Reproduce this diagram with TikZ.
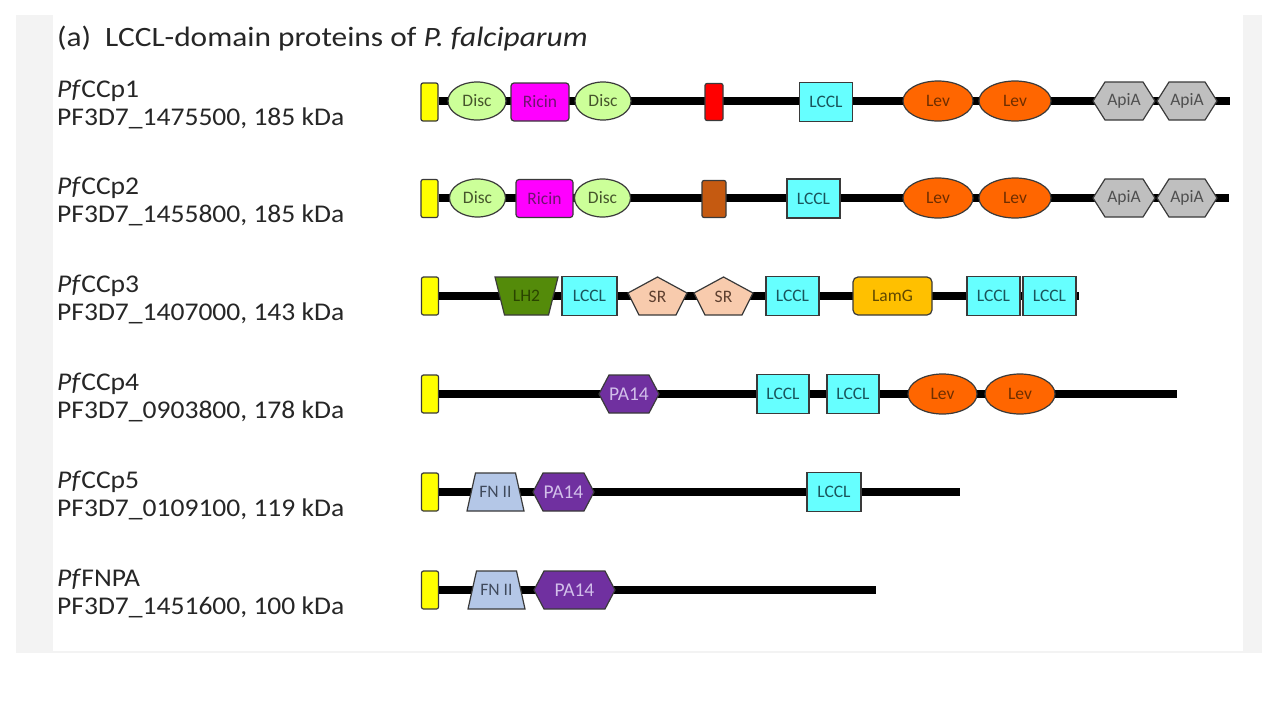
\documentclass[tikz,border=0pt]{standalone}
\usepackage{fontspec}
\setmainfont{Carlito}
\newfontfamily\wideCarlito[FakeStretch=1.08]{Carlito}
\newfontfamily\titleCarlito[FakeStretch=1.12]{Carlito}
\usetikzlibrary{shapes.geometric}
\definecolor{panelgray}{HTML}{F3F3F3}
\definecolor{bdcol}{HTML}{3A3A3A}
\definecolor{txtcol}{HTML}{262626}
\definecolor{sigfill}{HTML}{FFFF00}
\definecolor{discfill}{HTML}{CCFF99}
\definecolor{disctext}{HTML}{46552C}
\definecolor{ricinfill}{HTML}{FF00FF}
\definecolor{ricintext}{HTML}{701470}
\definecolor{redfill}{HTML}{FF0000}
\definecolor{brownfill}{HTML}{C55A11}
\definecolor{lcclfill}{HTML}{66FFFF}
\definecolor{lccltext}{HTML}{1A555C}
\definecolor{levfill}{HTML}{FF6600}
\definecolor{levtext}{HTML}{6E2E00}
\definecolor{apiafill}{HTML}{BFBFBF}
\definecolor{apiatext}{HTML}{4F4F4F}
\definecolor{lhfill}{HTML}{548B0A}
\definecolor{lhtext}{HTML}{2A4400}
\definecolor{srfill}{HTML}{F8CBAD}
\definecolor{srtext}{HTML}{5E4030}
\definecolor{lamgfill}{HTML}{FFC000}
\definecolor{lamgtext}{HTML}{604800}
\definecolor{pafill}{HTML}{7030A0}
\definecolor{patext}{HTML}{D2BFEA}
\definecolor{fnfill}{HTML}{B4C7E7}
\definecolor{fntext}{HTML}{404A5C}
\newcommand{\domfont}{\fontsize{17.5}{17.5}\selectfont}
\newcommand{\hexdom}[7]{%
  \draw[#6] ({#2-#4},#3) -- ({#2-#4+#5},{#3-19}) -- ({#2+#4-#5},{#3-19}) -- ({#2+#4},#3) -- ({#2+#4-#5},{#3+19}) -- ({#2-#4+#5},{#3+19}) -- cycle;
  \node[#6 text] (#1) at (#2,#3) {#7};}
\newcommand{\trapdom}[7]{%
  \draw[#6] ({#2-#4},{#3-19}) -- ({#2+#4},{#3-19}) -- ({#2+#5},{#3+19}) -- ({#2-#5},{#3+19}) -- cycle;
  \node[#6 text] (#1) at (#2,#3) {#7};}
\newcommand{\pentdom}[4]{%
  \draw[sr] (#2,{#3-19}) -- ({#2+29.5},{#3-3}) -- ({#2+18.5},{#3+19}) -- ({#2-18.5},{#3+19}) -- ({#2-29.5},{#3-3}) -- cycle;
  \node[sr text] (#1) at (#2,{#3+1}) {#4};}
\tikzset{
  bd/.style={draw=bdcol, line width=1.2pt},
  dlab/.style={font=\domfont, inner sep=0pt},
  backbone/.style={line width=8pt, black},
  sigbox/.style={bd, fill=sigfill, rounded corners=2pt, minimum width=17pt, minimum height=38pt, inner sep=0pt},
  disc/.style={ellipse, bd, fill=discfill, minimum height=38pt, inner sep=0pt, dlab, text=disctext},
  ricin/.style={rectangle, bd, fill=ricinfill, rounded corners=3pt, minimum height=38pt, inner sep=0pt, dlab, text=ricintext},
  tmbox/.style={rectangle, bd, rounded corners=2pt, minimum height=37pt, inner sep=0pt},
  lccl/.style={rectangle, bd, fill=lcclfill, minimum height=39pt, inner sep=0pt, dlab, text=lccltext},
  lev/.style={ellipse, bd, fill=levfill, minimum height=40pt, inner sep=0pt, dlab, text=levtext},
  lamg/.style={rectangle, bd, fill=lamgfill, rounded corners=5pt, minimum height=38pt, inner sep=0pt, dlab, text=lamgtext},
  apia/.style={bd, fill=apiafill},
  apia text/.style={dlab, text=apiatext},
  pa/.style={bd, fill=pafill},
  pa text/.style={dlab, font=\fontsize{19.5}{19.5}\selectfont, text=patext},
  lh/.style={bd, fill=lhfill},
  lh text/.style={dlab, text=lhtext},
  fn/.style={bd, fill=fnfill},
  fn text/.style={dlab, text=fntext},
  sr/.style={bd, fill=srfill},
  sr text/.style={dlab, text=srtext},
  namelbl/.style={anchor=base west, inner sep=0pt, text=txtcol, font=\wideCarlito\fontsize{25.5}{30}\selectfont},
}
\begin{document}
\begin{tikzpicture}[x=1pt,y=-1pt]
\useasboundingbox (0,0) rectangle (1280,720);
\fill[white] (0,0) rectangle (1280,720);
\fill[panelgray] (16,15) rectangle (1262,653);
\fill[white] (53,15) rectangle (1243,651);

\node[anchor=base west, inner sep=0pt, text=txtcol, font=\titleCarlito\fontsize{28}{32}\selectfont] (title) at (57,46) {(a)\hspace{0.5em}LCCL-domain proteins of \textit{P. falciparum}};

% labels
\node[namelbl] (n1) at (57,97) {\textit{Pf}CCp1};
\node[namelbl] (i1) at (57,125) {PF3D7\_1475500, 185 kDa};
\node[namelbl] (n2) at (57,194) {\textit{Pf}CCp2};
\node[namelbl] (i2) at (57,222) {PF3D7\_1455800, 185 kDa};
\node[namelbl] (n3) at (57,292) {\textit{Pf}CCp3};
\node[namelbl] (i3) at (57,320) {PF3D7\_1407000, 143 kDa};
\node[namelbl] (n4) at (57,390) {\textit{Pf}CCp4};
\node[namelbl] (i4) at (57,418) {PF3D7\_0903800, 178 kDa};
\node[namelbl] (n5) at (57,488) {\textit{Pf}CCp5};
\node[namelbl] (i5) at (57,516) {PF3D7\_0109100, 119 kDa};
\node[namelbl] (n6) at (57,586) {\textit{Pf}FNPA};
\node[namelbl] (i6) at (57,614) {PF3D7\_1451600, 100 kDa};

% row 1
\node[sigbox] (s1) at (429.5,102) {};
\coordinate (e1) at (1230,101);
\draw[backbone] (s1.east |- e1) -- (e1);
\node[disc, minimum width=58pt] (d1a) at (477,101) {Disc};
\node[ricin, minimum width=58pt] (r1) at (540,102) {Ricin};
\node[disc, minimum width=56pt] (d1b) at (603,101) {Disc};
\node[tmbox, fill=redfill, minimum width=18pt] (t1) at (714,102) {};
\node[lccl, minimum width=53pt] (l1) at (826,102) {LCCL};
\node[lev, minimum width=70pt] (v1a) at (938,101) {Lev};
\node[lev, minimum width=72pt] (v1b) at (1015,101) {Lev};
\hexdom{a1a}{1124}{101}{31}{12}{apia}{ApiA}
\hexdom{a1b}{1187}{101}{30}{12}{apia}{ApiA}

% row 2
\node[sigbox] (s2) at (429.5,198.5) {};
\coordinate (e2) at (1229,198);
\draw[backbone] (s2.east |- e2) -- (e2);
\node[disc, minimum width=56pt] (d2a) at (477.5,198) {Disc};
\node[ricin, minimum width=57pt] (r2) at (544.5,198.5) {Ricin};
\node[disc, minimum width=56pt] (d2b) at (602.5,198) {Disc};
\node[tmbox, fill=brownfill, minimum width=24pt] (t2) at (714,199) {};
\node[lccl, minimum width=53pt] (l2) at (813.5,198.5) {LCCL};
\node[lev, minimum width=70pt] (v2a) at (938,198) {Lev};
\node[lev, minimum width=72pt] (v2b) at (1015,198) {Lev};
\hexdom{a2a}{1124}{198}{31}{12}{apia}{ApiA}
\hexdom{a2b}{1187}{198}{30}{12}{apia}{ApiA}

% row 3
\node[sigbox] (s3) at (430,296) {};
\coordinate (e3) at (1079,296);
\draw[backbone] (s3.east |- e3) -- (e3);
\trapdom{lh3}{526.5}{296}{31.5}{22}{lh}{LH2}
\node[lccl, minimum width=55pt] (l3a) at (589.5,296) {LCCL};
\pentdom{sr3a}{657.5}{296}{SR}
\pentdom{sr3b}{723.5}{296}{SR}
\node[lccl, minimum width=53pt] (l3b) at (792.5,296) {LCCL};
\node[lamg, minimum width=79pt] (lg3) at (892.5,296) {LamG};
\node[lccl, minimum width=53pt] (l3c) at (993.5,296) {LCCL};
\node[lccl, minimum width=53pt] (l3d) at (1049.5,296) {LCCL};

% row 4
\node[sigbox] (s4) at (430,394) {};
\coordinate (e4) at (1177,394);
\draw[backbone] (s4.east |- e4) -- (e4);
\hexdom{p4}{629}{394}{30}{10}{pa}{PA14}
\node[lccl, minimum width=52pt] (l4a) at (783,394) {LCCL};
\node[lccl, minimum width=52pt] (l4b) at (853,394) {LCCL};
\node[lev, minimum width=69pt] (v4a) at (942.5,394) {Lev};
\node[lev, minimum width=70pt] (v4b) at (1020,394) {Lev};

% row 5
\node[sigbox] (s5) at (430,492) {};
\coordinate (e5) at (960,492);
\draw[backbone] (s5.east |- e5) -- (e5);
\trapdom{f5}{495.5}{492}{20}{28.5}{fn}{FN II}
\hexdom{p5}{563.5}{492}{30.5}{10}{pa}{PA14}
\node[lccl, minimum width=54pt] (l5) at (834,492) {LCCL};

% row 6
\node[sigbox] (s6) at (430,590) {};
\coordinate (e6) at (876,590);
\draw[backbone] (s6.east |- e6) -- (e6);
\trapdom{f6}{496.5}{590}{20}{28.5}{fn}{FN II}
\hexdom{p6}{574.5}{590}{40.5}{10}{pa}{PA14}
\end{tikzpicture}
\end{document}
